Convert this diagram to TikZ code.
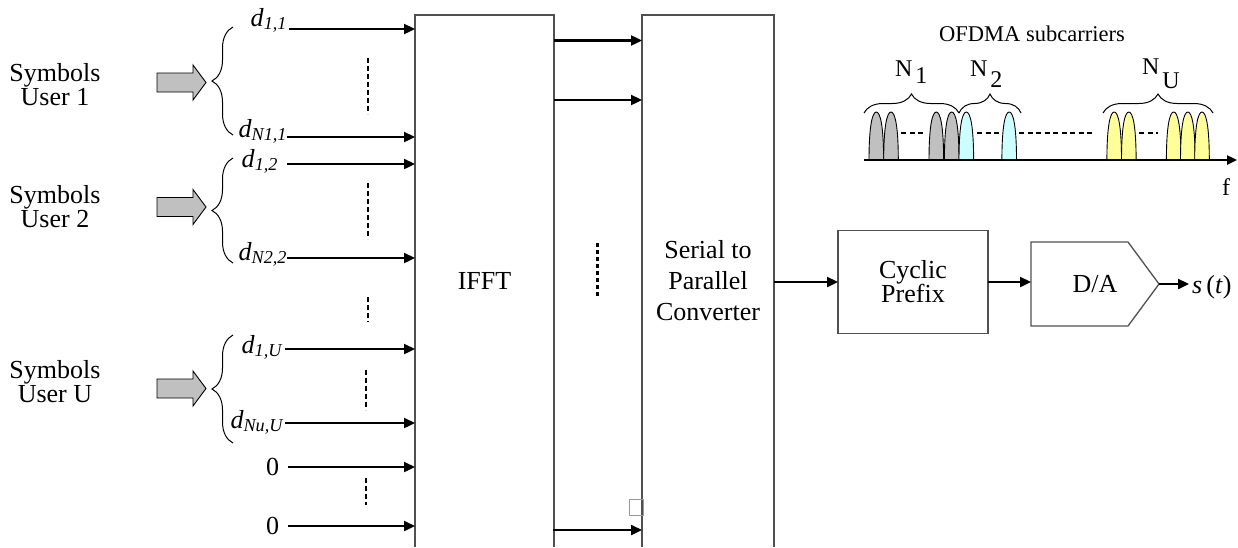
\documentclass[tikz,border=0pt]{standalone}
\usepackage{fontspec}
\setmainfont{Liberation Serif}
\usetikzlibrary{arrows.meta,decorations.pathreplacing,calc}
\definecolor{pgray}{HTML}{C0C0C0}
\definecolor{pcyan}{HTML}{CCFFFF}
\definecolor{pyellow}{HTML}{FFFF99}
\definecolor{boxline}{HTML}{505050}
\newcommand\mypulse[2]{\draw[fill=#1, line width=0.9pt] (#2-7.3,160) .. controls (#2-7.3,126) and (#2-4,112) .. (#2,112) .. controls (#2+4,112) and (#2+7.3,126) .. (#2+7.3,160);}
\begin{document}
\begin{tikzpicture}[x=1pt,y=-1pt,
  txt/.style={font=\fontsize{26}{31}\selectfont, inner sep=0pt, outer sep=0pt},
  twoline/.style={font=\fontsize{26}{24}\selectfont, inner sep=0pt, outer sep=0pt, align=center},
  sig/.style={line width=2.3pt, -{Triangle[length=11pt,width=10pt]}},
  blk/.style={draw=boxline, line width=1.3pt},
  vdash/.style={line width=1.8pt, dash pattern=on 5pt off 3pt},
  hdash/.style={line width=1.7pt, dash pattern=on 5pt off 3.5pt},
  lbrace/.style={decorate, decoration={brace, amplitude=21pt}, line width=1pt},
  tbrace/.style={decorate, decoration={brace, amplitude=19pt}, line width=1pt},
  bigarrow/.style={fill=pgray, draw=black, line width=0.9pt},
  slab/.style={font=\fontsize{24}{28}\selectfont, inner sep=0pt, outer sep=0pt}
]
\useasboundingbox (0,0) rectangle (1238,547);

% main blocks
\node[txt, minimum width=139pt, minimum height=532pt] (ifft) at (484.5,281) {IFFT};
\node[txt, minimum width=132pt, minimum height=532pt, font=\fontsize{26}{31}\selectfont, align=center] (s2p) at (708,281) {Serial to\\Parallel\\Converter};
\draw[blk] (ifft.south west) -- (ifft.north west) -- (ifft.north east) -- (ifft.south east);
\draw[blk] (s2p.south west) -- (s2p.north west) -- (s2p.north east) -- (s2p.south east);

\node[twoline, draw=boxline, line width=1.3pt, minimum width=150pt, minimum height=103pt] (cp) at (913,282) {Cyclic\\Prefix};
\node[txt, minimum width=128pt, minimum height=84pt] (da) at (1095,284) {D/A};
\draw[blk] (da.north west) -- ($(da.north east)+(-31,0)$) -- (da.east) -- ($(da.south east)+(-31,0)$) -- (da.south west) -- cycle;
\node[txt, anchor=base west] (st) at (1192,293) {\textit{s}\,(\textit{t})};
\coordinate (stin) at (1189,284);

% user groups
\node[twoline] (u1) at (55,85) {Symbols\\User 1};
\node[twoline] (u2) at (55,207) {Symbols\\User 2};
\node[twoline] (uU) at (55,382) {Symbols\\User U};
\draw[bigarrow] (157,73) -- (193,73) -- (193,65) -- (206,82.5) -- (193,100) -- (193,92) -- (157,92) -- cycle;
\draw[bigarrow] (157,197.5) -- (193,197.5) -- (193,189.5) -- (206,207) -- (193,224.5) -- (193,216.5) -- (157,216.5) -- cycle;
\draw[bigarrow] (157,379) -- (193,379) -- (193,371) -- (206,388.5) -- (193,406) -- (193,398) -- (157,398) -- cycle;
\draw[lbrace] (233,135) -- (233,27);
\draw[lbrace] (233,263) -- (233,158);
\draw[lbrace] (233,443) -- (233,335);

% input labels
\node[txt, anchor=base east] (l1) at (287,26) {\textit{d}\textsubscript{\textit{1,1}}};
\node[txt, anchor=base east] (l2) at (287,137) {\textit{d}\textsubscript{\textit{N1,1}}};
\node[txt, anchor=base east] (l3) at (278,167) {\textit{d}\textsubscript{\textit{1,2}}};
\node[txt, anchor=base east] (l4) at (287,260) {\textit{d}\textsubscript{\textit{N2,2}}};
\node[txt, anchor=base east] (l5) at (283,353) {\textit{d}\textsubscript{\textit{1,U}}};
\node[txt, anchor=base east] (l6) at (284,428) {\textit{d}\textsubscript{\textit{Nu,U}}};
\node[txt, anchor=east] (l7) at (279,467) {0};
\node[txt, anchor=east] (l8) at (279,526) {0};

\coordinate (i1) at (289,29);
\coordinate (i2) at (287,137);
\coordinate (i3) at (287,164);
\coordinate (i4) at (287,258);
\coordinate (i5) at (285,349);
\coordinate (i6) at (285,423);
\coordinate (i7) at (288,467);
\coordinate (i8) at (288,526);
\foreach \c in {i1,i2,i3,i4,i5,i6,i7,i8}{\draw[sig] (\c) -- (\c -| ifft.west);}

\draw[vdash] (368,58) -- (368,114);
\draw[vdash] (368,183) -- (368,239);
\draw[vdash] (368,297) -- (368,322);
\draw[vdash] (366,370) -- (366,410);
\draw[vdash] (366,478) -- (366,505);

% IFFT to S/P
\coordinate (o1) at (554,40.5);
\coordinate (o2) at (554,100);
\coordinate (o3) at (553,530);
\foreach \c in {o1,o2,o3}{\draw[sig] (\c) -- (\c -| s2p.west);}
\draw[line width=3pt, dash pattern=on 3.5pt off 3.5pt] (597,243) -- (597,299);
\draw[draw=gray!80, line width=0.8pt] (629,499) rectangle (643,515);

% chain
\draw[sig] (s2p.east |- cp.west) -- (cp.west);
\draw[sig] (cp.east) -- (cp.east -| da.west);
\draw[sig] (da.east) -- (stin);

% spectrum
\node[font=\fontsize{22.5}{27}\selectfont, inner sep=0pt, anchor=base] (ofdma) at (1032,41.5) {OFDMA subcarriers};
\mypulse{pgray}{876.3}
\mypulse{pgray}{891}
\mypulse{pgray}{936.3}
\mypulse{pgray}{951.7}
\mypulse{pcyan}{966.3}
\mypulse{pcyan}{1009.2}
\mypulse{pyellow}{1114.2}
\mypulse{pyellow}{1128.8}
\mypulse{pyellow}{1173.7}
\mypulse{pyellow}{1187.8}
\mypulse{pyellow}{1202}
\draw[hdash] (901,133) -- (925,133);
\draw[hdash] (977,133) -- (1000,133);
\draw[hdash] (1019,133) -- (1092,133);
\draw[hdash] (1139,133) -- (1158,133);
\coordinate (ax0) at (864,160);
\coordinate (ax1) at (1237,160);
\draw[line width=2.3pt, -{Triangle[length=10pt,width=9pt]}] (ax0) -- (ax1);
\node[font=\fontsize{24}{28}\selectfont, inner sep=0pt, anchor=base] (f) at (1226,195) {f};
\draw[tbrace] (864,113) -- (959,113);
\draw[tbrace] (959,113) -- (1021,113);
\draw[tbrace] (1103,113) -- (1213,113);
\node[slab, anchor=base west] (n1) at (895,76) {N\kern3pt\raisebox{-7pt}{1}};
\node[slab, anchor=base west] (n2) at (970,76) {N\kern3pt\raisebox{-11pt}{2}};
\node[slab, anchor=base west] (nU) at (1142,74) {N\kern3pt\raisebox{-14pt}{U}};
\end{tikzpicture}
\end{document}
